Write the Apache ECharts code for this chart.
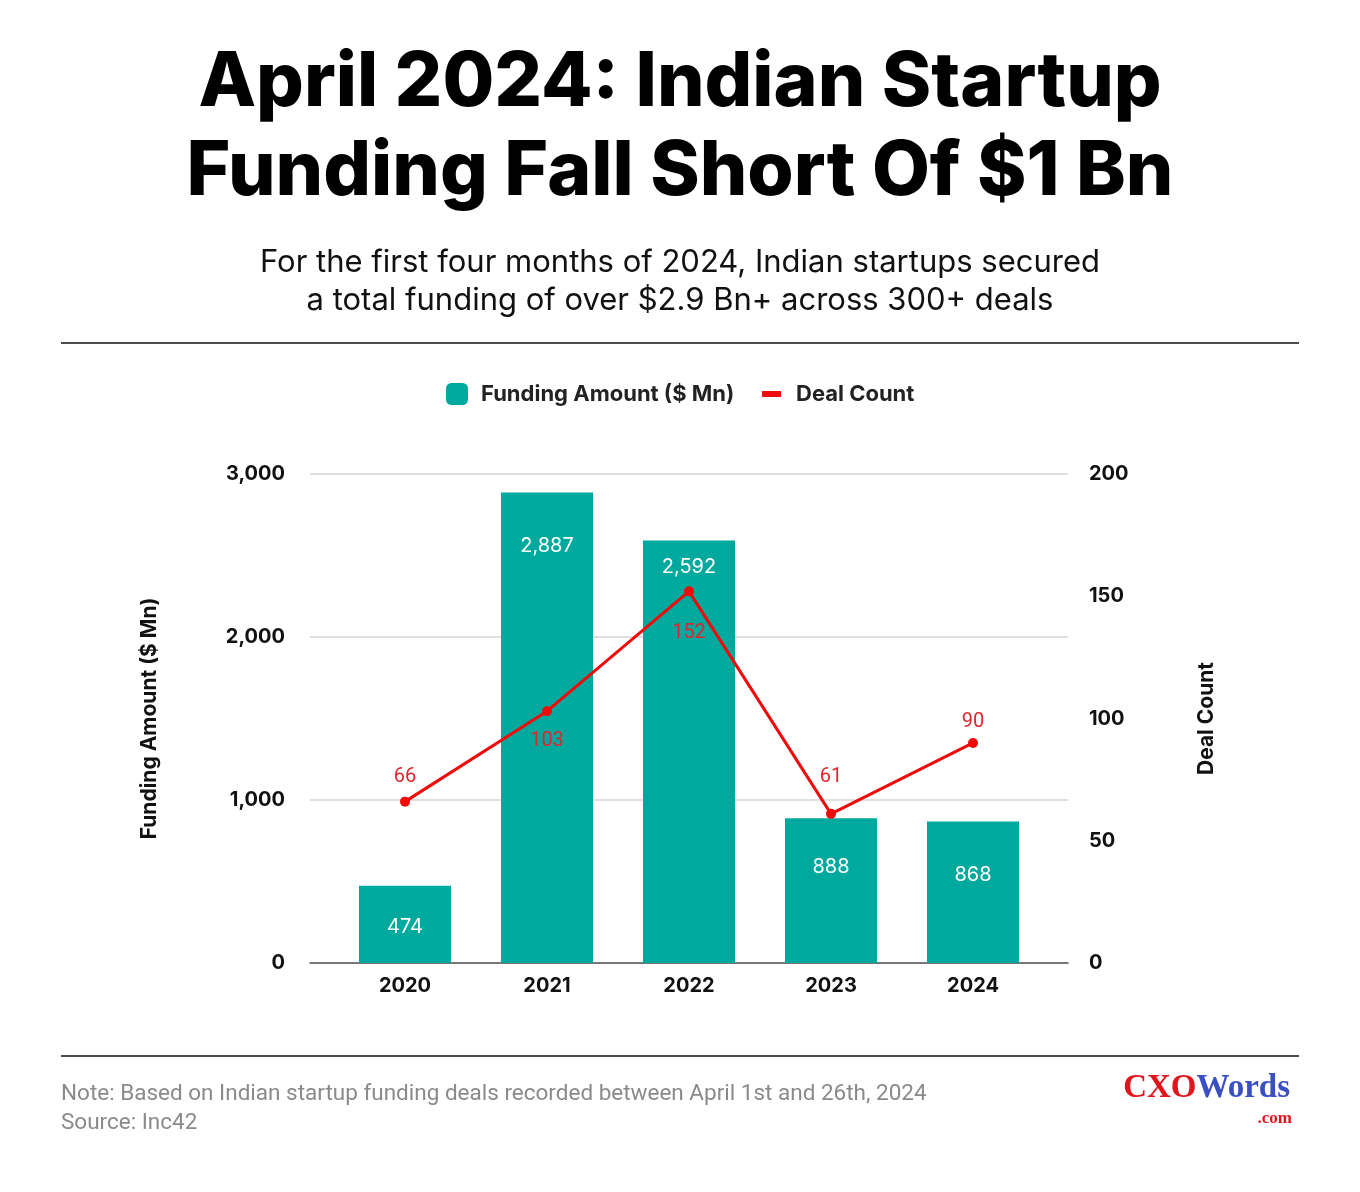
<!DOCTYPE html>
<html>
<head>
<meta charset="utf-8">
<script src="https://cdn.jsdelivr.net/npm/echarts@6/dist/echarts.min.js"></script>
<style>html,body{margin:0;padding:0;background:#fff;}#c{width:1360px;height:1192px;}</style>
</head>
<body>
<div id="c"></div>
<script>
// ---- data ----
var years = ['2020', '2021', '2022', '2023', '2024'];
var fundingAmount = [474, 2887, 2592, 888, 868];
var dealCount = [66, 103, 152, 61, 90];
var leftTicks = [0, 1000, 2000, 3000];
var rightTicks = [0, 50, 100, 150, 200];

// ---- styling ----
var TEAL = '#00a99d';
var RED = '#f00a0a';
var FONT = 'Inter, "Open Sans", sans-serif';
var barLabelDistance = [31, 44, 16, 39, 43];
var lineLabelPos = ['top', 'bottom', 'bottom', 'top', 'top'];
var lineLabelDist = [10, 15, 27, 22, 6];

var chart = echarts.init(document.getElementById('c'));

var barData = fundingAmount.map(function (v, i) {
  return { value: v, label: { distance: barLabelDistance[i] } };
});
var lineData = dealCount.map(function (v, i) {
  return { value: v, label: { position: lineLabelPos[i], distance: lineLabelDist[i] } };
});

chart.setOption({
  backgroundColor: '#fff',
  animation: false,
  graphic: [
    { type: 'text', x: 680, y: 83, style: { text: 'April 2024: Indian Startup', align: 'center', verticalAlign: 'middle',
      font: '800 75px Inter, sans-serif', fill: '#000' } },
    { type: 'text', x: 680, y: 172, style: { text: 'Funding Fall Short Of $1 Bn', align: 'center', verticalAlign: 'middle',
      font: '800 75px Inter, sans-serif', fill: '#000' } },
    { type: 'text', x: 680, y: 263, style: { text: 'For the first four months of 2024, Indian startups secured', align: 'center', verticalAlign: 'middle',
      font: '400 31px Inter, sans-serif', fill: '#111' } },
    { type: 'text', x: 680, y: 301, style: { text: 'a total funding of over $2.9 Bn+ across 300+ deals', align: 'center', verticalAlign: 'middle',
      font: '400 31px Inter, sans-serif', fill: '#111' } },
    { type: 'text', x: 61, y: 1094, style: { text: 'Note: Based on Indian startup funding deals recorded between April 1st and 26th, 2024', align: 'left', verticalAlign: 'middle',
      font: '400 22.5px Roboto, sans-serif', fill: '#8a8a8a' } },
    { type: 'text', x: 61, y: 1123, style: { text: 'Source: Inc42', align: 'left', verticalAlign: 'middle',
      font: '400 22.5px Roboto, sans-serif', fill: '#8a8a8a' } },
    { type: 'text', x: 1290, y: 1088, style: { text: '{a|CXO}{b|Words}', align: 'right', verticalAlign: 'middle',
      rich: {
        a: { fontFamily: '"Liberation Serif", serif', fontWeight: 'bold', fontSize: 33, fill: '#e0161e' },
        b: { fontFamily: '"Liberation Serif", serif', fontWeight: 'bold', fontSize: 33, fill: '#3b4fc4' }
      } } },
    { type: 'text', x: 1292, y: 1119, style: { text: '.com', align: 'right', verticalAlign: 'middle',
      font: 'bold 17px "Liberation Serif", serif', fill: '#e0161e' } },
    { type: 'line', shape: { x1: 61, y1: 343, x2: 1299, y2: 343 }, style: { stroke: '#111', lineWidth: 1.5 } },
    { type: 'line', shape: { x1: 61, y1: 1056, x2: 1299, y2: 1056 }, style: { stroke: '#111', lineWidth: 1.5 } }
  ],
  legend: [
    { data: ['Funding Amount ($ Mn)'], left: 441, top: 378, icon: 'roundRect', itemWidth: 22, itemHeight: 22,
      textStyle: { fontFamily: FONT, fontWeight: 700, fontSize: 22, color: '#222', padding: [0, 0, 0, 8] } },
    { data: ['Deal Count'], left: 757, top: 378, icon: 'rect', itemWidth: 19, itemHeight: 6,
      textStyle: { fontFamily: FONT, fontWeight: 700, fontSize: 22, color: '#222', padding: [0, 0, 0, 10] } }
  ],
  grid: [
    { left: 310, right: 292, top: 474, bottom: 229 },
    { left: 334, right: 316, top: 474, bottom: 229 }
  ],
  xAxis: [
    { gridIndex: 0, type: 'category', data: years, axisLabel: { show: false }, axisTick: { show: false },
      axisLine: { lineStyle: { color: '#555', width: 1.5 } } },
    { gridIndex: 1, type: 'category', data: years, axisTick: { show: false }, axisLine: { show: false },
      axisLabel: { fontFamily: FONT, fontWeight: 700, fontSize: 20, color: '#111', margin: 13 } }
  ],
  yAxis: [
    { gridIndex: 0, type: 'value', min: 0, max: 3000, interval: 1000, position: 'left',
      name: 'Funding Amount ($ Mn)', nameLocation: 'middle', nameGap: 150,
      nameTextStyle: { fontFamily: FONT, fontWeight: 700, fontSize: 21, color: '#111' },
      axisLine: { show: false }, axisTick: { show: false },
      axisLabel: { fontFamily: FONT, fontWeight: 700, fontSize: 20, color: '#111', margin: 25,
        formatter: function (v) { return leftTicks.indexOf(v) >= 0 ? v.toLocaleString('en-US') : ''; } },
      splitLine: { lineStyle: { color: '#d4d4d4', width: 1.5 } } },
    { gridIndex: 0, type: 'value', min: 0, max: 200, interval: 50, position: 'right',
      name: 'Deal Count', nameLocation: 'middle', nameGap: 128,
      nameTextStyle: { fontFamily: FONT, fontWeight: 700, fontSize: 21, color: '#111' },
      axisLine: { show: false }, axisTick: { show: false }, splitLine: { show: false },
      axisLabel: { fontFamily: FONT, fontWeight: 700, fontSize: 20, color: '#111', margin: 21,
        formatter: function (v) { return rightTicks.indexOf(v) >= 0 ? String(v) : ''; } } },
    { gridIndex: 1, type: 'value', min: 0, max: 3000, show: false },
    { gridIndex: 1, type: 'value', min: 0, max: 200, show: false }
  ],
  series: [
    { name: 'Funding Amount ($ Mn)', type: 'bar', xAxisIndex: 1, yAxisIndex: 2, data: barData, barWidth: 92,
      itemStyle: { color: TEAL },
      label: { show: true, position: 'insideTop', color: '#fff', fontFamily: FONT, fontSize: 20,
        formatter: function (p) { return p.value.toLocaleString('en-US'); } } },
    { name: 'Deal Count', type: 'line', xAxisIndex: 1, yAxisIndex: 3, data: lineData,
      lineStyle: { color: RED, width: 3 }, itemStyle: { color: RED },
      symbol: 'circle', symbolSize: 10,
      label: { show: true, color: '#e0262e', fontFamily: 'Roboto, sans-serif', fontSize: 20 } }
  ]
});
</script>
</body>
</html>
